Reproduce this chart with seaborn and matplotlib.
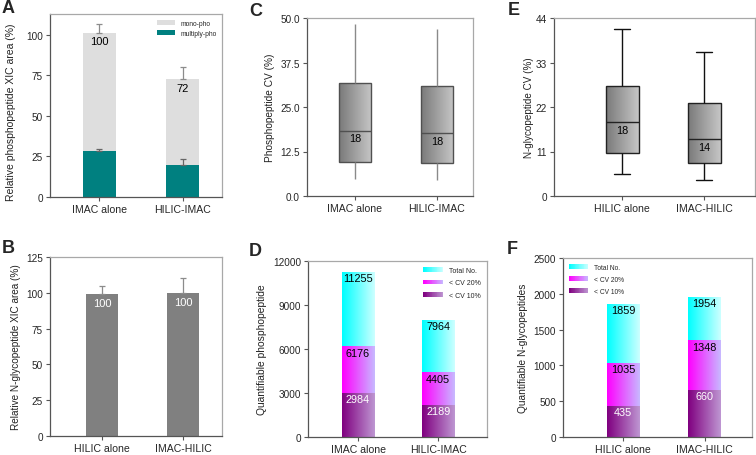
import numpy as np
import pandas as pd
import matplotlib
matplotlib.use("Agg")
import matplotlib.pyplot as plt
import seaborn as sns
from matplotlib.colors import LinearSegmentedColormap, to_rgb
from matplotlib.patches import Rectangle
from matplotlib.legend_handler import HandlerBase

# ---- data ----
phos_methods = ['IMAC alone', 'HILIC-IMAC']
glyco_methods = ['HILIC alone', 'IMAC-HILIC']

# A: relative phosphopeptide XIC area
a_total = [101.0, 72.5]
a_total_err = [5.4, 7.5]
a_multi = [28.3, 19.6]
a_multi_err = [1.0, 3.7]
a_labels = ['100', '72']

# B: relative N-glycopeptide XIC area
b_area = [99.5, 100.0]
b_err = [5.5, 10.0]
b_labels = ['100', '100']

# C: phosphopeptide CV box stats (low whisker, q1, median, q3, high whisker)
c_stats = {'IMAC alone': [4.8, 9.5, 18.3, 31.7, 48.4],
           'HILIC-IMAC': [4.6, 9.3, 17.7, 30.9, 46.9]}
c_labels = ['18', '18']

# D: quantifiable phosphopeptides
d_total = [11255, 7964]
d_cv20 = [6176, 4405]
d_cv10 = [2984, 2189]

# E: N-glycopeptide CV box stats
e_stats = {'HILIC alone': [5.5, 10.6, 18.3, 27.2, 41.2],
           'IMAC-HILIC': [4.0, 8.1, 14.1, 23.0, 35.7]}
e_labels = ['18', '14']

# F: quantifiable N-glycopeptides
f_total = [1859, 1954]
f_cv20 = [1035, 1348]
f_cv10 = [435, 660]

# ---- style ----
sns.set_style('white')
plt.rcParams['font.family'] = ['Liberation Sans', 'DejaVu Sans']
plt.rcParams['font.size'] = 7.5

CYAN = ('#00FFFF', '#CCFFFF')
MAGENTA = ('#FF00FF', '#C8B8FF')
PURPLE = ('#800080', '#BE96D2')
BOXGRAD = ('#7A7A7A', '#C6C6C6')


def gradient_fill(ax, patch, c0, c1, z=None):
    bb = patch.get_path().get_extents(patch.get_patch_transform())
    cmap = LinearSegmentedColormap.from_list('g', [c0, c1])
    grad = np.linspace(0, 1, 64).reshape(1, -1)
    im = ax.imshow(grad, extent=(bb.x0, bb.x1, bb.y0, bb.y1), aspect='auto',
                   origin='lower', cmap=cmap,
                   zorder=patch.get_zorder() - 0.05 if z is None else z)
    im.set_clip_path(patch)
    patch.set_facecolor('none')


class GradHandle:
    def __init__(self, c0, c1):
        self.c0, self.c1 = c0, c1


class GradHandler(HandlerBase):
    def create_artists(self, legend, h, xd, yd, w, ht, fs, trans):
        n = 24
        a, b = np.array(to_rgb(h.c0)), np.array(to_rgb(h.c1))
        out = []
        for i in range(n):
            t = i / (n - 1)
            out.append(Rectangle((-xd + i * w / n, -yd), w / n * 1.05, ht,
                                 facecolor=a + (b - a) * t, lw=0, transform=trans))
        return out


def style_axes(ax, ylab, ysize):
    for s in ['left', 'bottom']:
        ax.spines[s].set_color('#555555')
    for s in ['top', 'right']:
        ax.spines[s].set_color('#a8a8a8')
    for s in ax.spines.values():
        s.set_linewidth(0.9)
    ax.tick_params(direction='out', length=3, width=0.8, color='#555555',
                   pad=2, left=True, bottom=True)
    ax.tick_params(axis='y', labelsize=7.2)
    ax.tick_params(axis='x', labelsize=7.6)
    ax.set_xlabel('')
    ax.set_ylabel(ylab, fontsize=ysize, color='#222222')


def label_at(ax, x, y, text, color='black', dy=-6, size=8):
    ax.annotate(text, (x, y), xytext=(0, dy), textcoords='offset points',
                ha='center', va='center', color=color, fontsize=size, zorder=10)


fig = plt.figure(figsize=(7.56, 4.56), dpi=100)


def add_axes(l, r, t, b):
    W, H = 756, 456
    return fig.add_axes([l / W, 1 - b / H, (r - l) / W, (b - t) / H])


# ---- A ----
ax = add_axes(50, 222, 15, 198)
sns.barplot(x=phos_methods, y=a_total, color='#DEDEDE', width=0.4, lw=0,
            saturation=1, errorbar=None, ax=ax, label='mono-pho')
sns.barplot(x=phos_methods, y=a_multi, color='#008080', width=0.4, lw=0,
            saturation=1, errorbar=None, ax=ax, label='multiply-pho')
xs = np.arange(len(phos_methods))
ax.errorbar(xs, a_total, yerr=[np.zeros(2), a_total_err], fmt='none',
            ecolor='#8c8c8c', elinewidth=0.9, capsize=2.5, capthick=0.9)
ax.errorbar(xs, a_multi, yerr=[np.zeros(2), a_multi_err], fmt='none',
            ecolor='#666666', elinewidth=0.9, capsize=2.5, capthick=0.9)
for i, t in enumerate(a_labels):
    label_at(ax, i, a_total[i], t)
ax.set_ylim(0, 112.8)
ax.set_yticks([0, 25, 50, 75, 100])
ax.set_xlim(-0.59, 1.47)
ax.legend(loc='upper right', frameon=False, fontsize=4.8, handlelength=2.8,
          handleheight=0.8, borderaxespad=0.45, labelspacing=0.45,
          handletextpad=0.7)
style_axes(ax, 'Relative phosphopeptide XIC area (%)', 7.5)
ax.yaxis.set_label_coords(-0.2, 0.47)

# ---- B ----
ax = add_axes(50, 222, 258, 437)
sns.barplot(x=glyco_methods, y=b_area, color='#808080', width=0.4, lw=0,
            saturation=1, errorbar=None, ax=ax)
xs = np.arange(len(glyco_methods))
ax.errorbar(xs, b_area, yerr=[np.zeros(2), b_err], fmt='none',
            ecolor='#8c8c8c', elinewidth=0.9, capsize=2.5, capthick=0.9)
for i, t in enumerate(b_labels):
    label_at(ax, i, b_area[i], t, color='white', dy=-6.5)
ax.set_ylim(0, 125)
ax.set_yticks([0, 25, 50, 75, 100, 125])
ax.set_xlim(-0.64, 1.48)
style_axes(ax, 'Relative N-glycopeptide XIC area (%)', 7.2)


def box_panel(ax, stats, labels, edge, whisk, cap):
    rows = [(k, v) for k, vals in stats.items() for v in vals]
    df = pd.DataFrame(rows, columns=['method', 'cv'])
    sns.boxplot(data=df, x='method', y='cv', whis=(0, 100), width=0.4,
                color='#999999', saturation=1, linecolor=edge, linewidth=1,
                whiskerprops=dict(color=whisk), capprops=cap,
                medianprops=dict(color=edge), ax=ax)
    for p in list(ax.patches):
        gradient_fill(ax, p, *BOXGRAD)
    for i, k in enumerate(stats):
        label_at(ax, i, stats[k][2], labels[i], dy=-5.5, size=7.8)


# ---- C ----
ax = add_axes(307, 473, 19, 197)
box_panel(ax, c_stats, c_labels, '#505050', '#8a8a8a', dict(visible=False))
ax.set_ylim(0, 50)
ax.set_yticks([0, 12.5, 25, 37.5, 50])
ax.set_yticklabels(['0.0', '12.5', '25.0', '37.5', '50.0'])
ax.set_xlim(-0.585, 1.44)
style_axes(ax, 'Phosphopeptide CV (%)', 7.3)

# ---- E ----
ax = add_axes(554, 755, 19, 197)
box_panel(ax, e_stats, e_labels, '#222222', '#111111',
          dict(color='#111111'))
ax.set_ylim(0, 44)
ax.set_yticks([0, 11, 22, 33, 44])
ax.set_xlim(-0.83, 1.62)
style_axes(ax, 'N-glycopeptide CV (%)', 7.1)
ax.yaxis.labelpad = 1


def count_panel(ax, methods, total, cv20, cv10, loc, lsize):
    for vals, (c0, c1) in [(total, CYAN), (cv20, MAGENTA), (cv10, PURPLE)]:
        n0 = len(ax.patches)
        sns.barplot(x=methods, y=vals, color=c0, width=0.4, lw=0,
                    errorbar=None, ax=ax)
        for p in ax.patches[n0:]:
            gradient_fill(ax, p, c0, c1, z=1 + 0.01 * n0)
    for i in range(len(methods)):
        label_at(ax, i, total[i], str(total[i]), dy=-4.5, size=7.8)
        label_at(ax, i, cv20[i], str(cv20[i]), dy=-4.5, size=7.8)
        label_at(ax, i, cv10[i], str(cv10[i]), color='white', dy=-4.5, size=7.8)
    hs = [GradHandle(*CYAN), GradHandle(*MAGENTA), GradHandle(*PURPLE)]
    ax.legend(hs, ['Total No.', '< CV 20%', '< CV 10%'], loc=loc,
              handler_map={GradHandle: GradHandler()}, frameon=False,
              fontsize=lsize, handlelength=2.9, handleheight=0.65,
              borderaxespad=0.5, labelspacing=0.75, handletextpad=0.8)


# ---- D ----
ax = add_axes(308, 487, 262, 438)
count_panel(ax, phos_methods, d_total, d_cv20, d_cv10, 'upper right', 5)
ax.set_ylim(0, 12000)
ax.set_yticks([0, 3000, 6000, 9000, 12000])
ax.set_xlim(-0.625, 1.61)
style_axes(ax, 'Quantifiable phosphopeptide', 7.4)

# ---- F ----
ax = add_axes(563, 752, 259, 438)
count_panel(ax, glyco_methods, f_total, f_cv20, f_cv10, 'upper left', 4.8)
ax.set_ylim(0, 2500)
ax.set_yticks([0, 500, 1000, 1500, 2000, 2500])
ax.set_xlim(-0.736, 1.58)
style_axes(ax, 'Quantifiable N-glycopeptides', 7.3)

# panel letters
for letter, x, y in [('A', 2, 0), ('C', 249, 3), ('E', 508, 2),
                     ('B', 2, 240), ('D', 249, 243), ('F', 507, 241)]:
    fig.text(x / 756, 1 - y / 456, letter, fontsize=13, fontweight='bold',
             ha='left', va='top')

fig.savefig('out.png', dpi=100)
